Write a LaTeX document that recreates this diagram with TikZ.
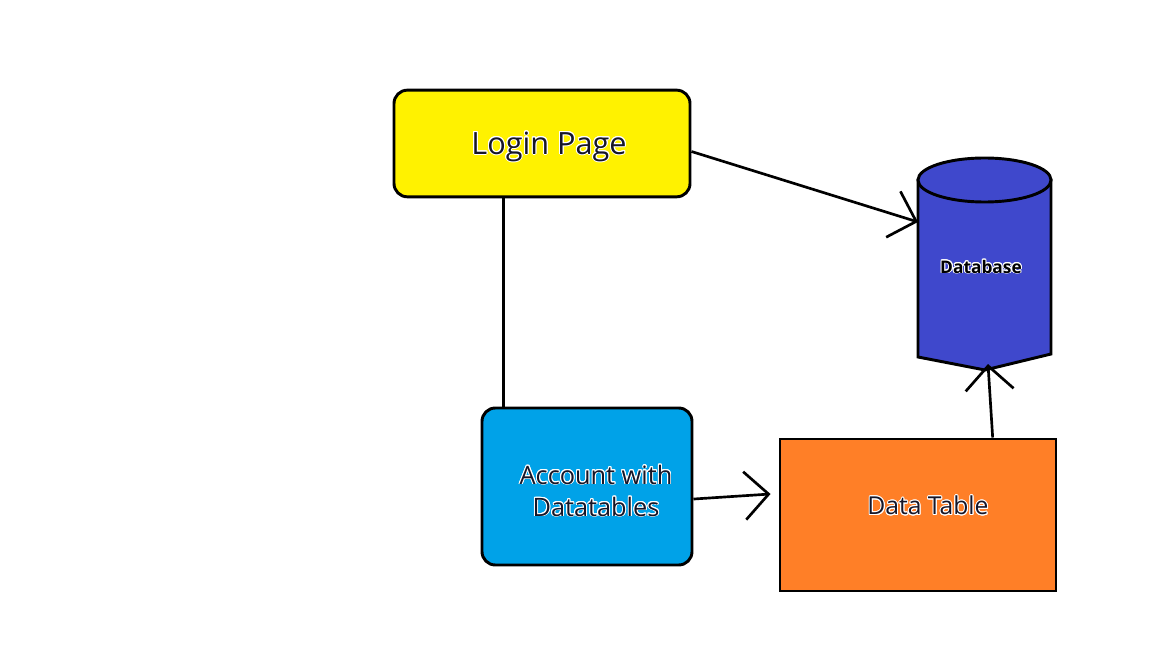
\documentclass[tikz,border=0pt]{standalone}
\usepackage{fontspec}
\setmainfont{Open Sans}
\usepackage[copies]{contour}
\contourlength{0.7pt}
\usetikzlibrary{arrows.meta}
\definecolor{loginyellow}{HTML}{FFF200}
\definecolor{accountblue}{HTML}{00A2E8}
\definecolor{tableorange}{HTML}{FF7F27}
\definecolor{dbblue}{HTML}{3F48CC}
\definecolor{inkdark}{HTML}{161628}

\begin{document}
\begin{tikzpicture}[x=0.75pt, y=-0.75pt,
    box/.style={draw=black, line width=2.2pt},
    boxtext/.style={text=inkdark, align=center},
    link/.style={line width=2pt},
    arr/.style={link, -{Straight Barb[length=18pt, width=36pt, line width=2pt]}}]
    \useasboundingbox (0,0) rectangle (1152,648);

    % Boites
    \node[box, fill=loginyellow, rounded corners=10pt, minimum width=222pt, minimum height=80pt] (login) at (542,143.5) {};
    \node[box, fill=accountblue, rounded corners=10pt, minimum width=157.5pt, minimum height=117.75pt] (account) at (587,486.5) {};
    \node[box, fill=tableorange, minimum width=207pt, minimum height=114pt] (datatable) at (918,515) {};

    % Textes des boites
    \node[boxtext, font=\fontsize{23}{27}\selectfont] (logintext) at (549,147) {\contour{white}{Login Page}};
    \node[boxtext, font=\fontsize{19}{24}\selectfont] (accounttext) at (596,491) {\contour{white}{Account with}\\\contour{white}{Datatables}};
    \node[boxtext, font=\fontsize{18.5}{22}\selectfont] (datatabletext) at (928,506) {\contour{white}{Data Table}};

    % Cylindre de la base
    \filldraw[fill=dbblue, draw=black, line width=2.2pt] (918,180) -- (918,357) -- (985,370) -- (1051,354) -- (1051,180) -- cycle;
    \filldraw[fill=dbblue, draw=black, line width=2.2pt] (984.5,180) ellipse [x radius=49.9pt, y radius=16.5pt];
    \node[text=black, font=\fontsize{13}{15}\selectfont\bfseries] (database) at (981,267) {\contour{white}{Database}};
    \coordinate (dbleft) at (918,222);
    \coordinate (dbbottom) at (988,364);

    % Liens
    \draw[arr] ([yshift=-6pt]login.east) -- (dbleft);
    \draw[link] ([xshift=-29pt]login.south) -- ([xshift=-29pt]login.south |- account.north);
    \draw[arr] ([yshift=-9.4pt]account.east) -- ([xshift=-6pt, yshift=15.75pt]datatable.west);
    \draw[arr] ([xshift=56pt]datatable.north) -- (dbbottom);

\end{tikzpicture}
\end{document}
